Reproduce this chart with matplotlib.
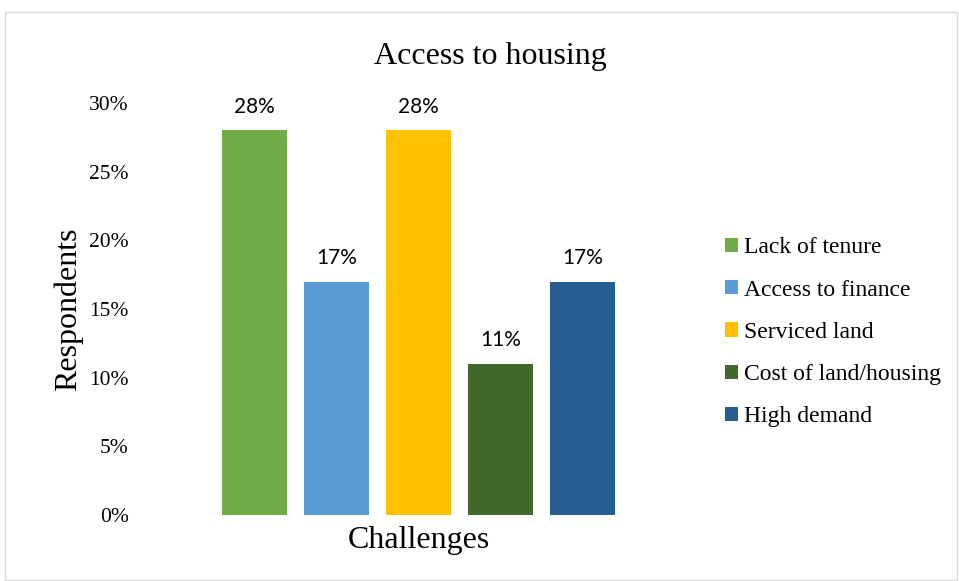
import matplotlib
matplotlib.use("Agg")
import matplotlib.pyplot as plt
from matplotlib.patches import Rectangle

categories = ["Lack of tenure", "Access to finance", "Serviced land",
              "Cost of land/housing", "High demand"]
values = [28, 17, 28, 11, 17]
colors = ["#70AD47", "#5B9BD5", "#FFC000", "#43682B", "#255E91"]
yticks = [0, 5, 10, 15, 20, 25, 30]

serif = ["Liberation Serif", "DejaVu Serif"]

fig = plt.figure(figsize=(9.59, 5.81), dpi=100)
fig.patches.append(Rectangle((5 / 959, 1 / 581), 952 / 959, 568 / 581,
                             transform=fig.transFigure, fill=False,
                             edgecolor="#D9D9D9", linewidth=1.0))

ax = fig.add_axes([0.1457, 0.1136, 0.5815, 0.7091])
x = list(range(len(values)))
bars = ax.bar(x, values, width=0.79, color=colors, label=categories)

for xi, v in zip(x, values):
    ax.text(xi, v + 1.0, f"{v}%", ha="center", va="bottom",
            fontsize=15, family=["Lato", "DejaVu Sans"])

ax.set_xlim(-1.4, 5.4)
ax.set_ylim(0, 30)
ax.set_yticks(yticks)
ax.set_yticklabels([f"{t}%" for t in yticks], family=serif, fontsize=15.5)
ax.tick_params(axis="y", length=0, pad=8)
ax.set_xticks([])
for s in ax.spines.values():
    s.set_visible(False)

ax.set_xlabel("Challenges", family=serif, fontsize=23, labelpad=8)
ax.set_ylabel("Respondents", family=serif, fontsize=23, labelpad=4)
fig.text(0.511, 0.902, "Access to housing", ha="center", va="center",
         family=serif, fontsize=23)

fig.legend(handles=bars, labels=categories, loc="center left",
           bbox_to_anchor=(0.734, 0.428), frameon=False,
           prop={"family": serif, "size": 17},
           handlelength=0.55, handleheight=0.55, handletextpad=0.25,
           labelspacing=0.9)

fig.savefig("out.png", dpi=100)
